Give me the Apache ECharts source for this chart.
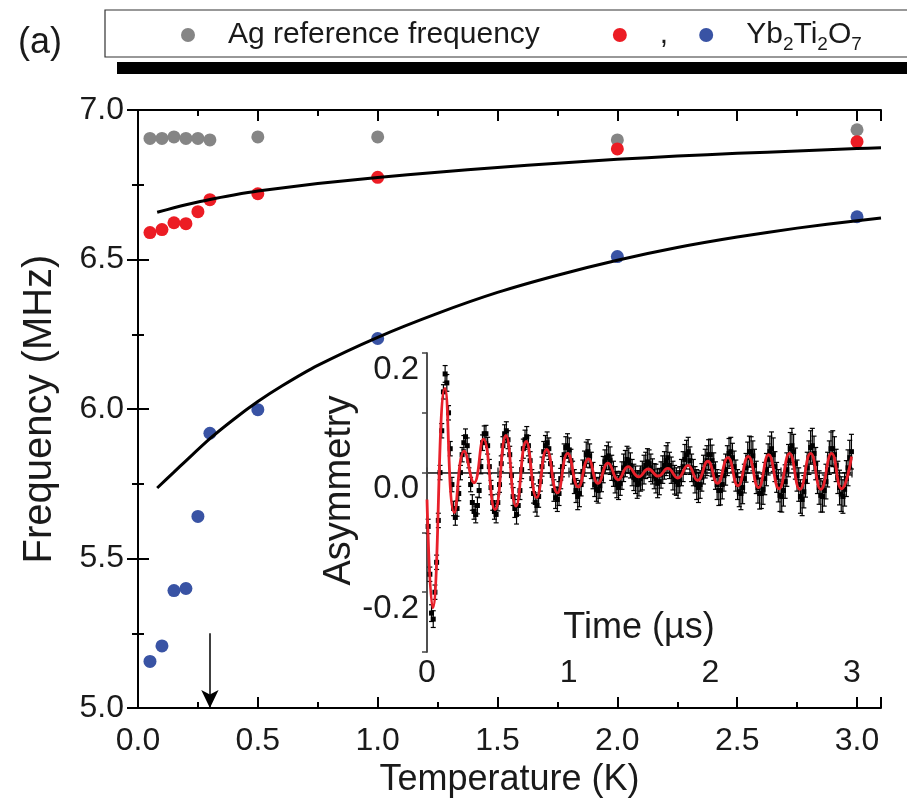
<!DOCTYPE html>
<html><head><meta charset="utf-8">
<script src="https://cdn.jsdelivr.net/npm/echarts@6/dist/echarts.min.js"></script>
<style>html,body{margin:0;padding:0;background:#fff}#c{width:907px;height:803px}</style>
</head><body><div id="c"></div>
<script>
const FONT = "'Liberation Sans',Arial,Helvetica,sans-serif";

// ---- main panel data ----
const temps = [0.05, 0.1, 0.15, 0.2, 0.25, 0.3, 0.5, 1.0, 2.0, 3.0];
const agFreq = [6.905, 6.905, 6.91, 6.905, 6.905, 6.9, 6.91, 6.91, 6.9, 6.934];
const redFreq = [6.59, 6.60, 6.623, 6.62, 6.66, 6.70, 6.72, 6.775, 6.87, 6.894];
const blueFreq = [5.156, 5.208, 5.393, 5.40, 5.641, 5.919, 5.998, 6.236, 6.51, 6.643];
const blueErr = [0.014, 0.014, 0.012, 0.014, 0.012, 0.01, 0.008, 0.006, 0.006, 0.006];

const fitUpperT = [0.08, 0.15, 0.2, 0.3, 0.4, 0.5, 0.75, 1.0, 1.25, 1.5, 1.75, 2.0, 2.25, 2.5, 2.75, 3.0, 3.1];
const fitUpperF = [6.658, 6.673, 6.683, 6.701, 6.716, 6.729, 6.754, 6.774, 6.792, 6.808, 6.822, 6.835, 6.846, 6.855, 6.863, 6.871, 6.874];
const fitLowerT = [0.08, 0.15, 0.2, 0.3, 0.4, 0.5, 0.6, 0.75, 1.0, 1.25, 1.5, 1.75, 2.0, 2.25, 2.5, 2.75, 3.0, 3.1];
const fitLowerF = [5.736, 5.789, 5.827, 5.901, 5.966, 6.025, 6.077, 6.146, 6.24, 6.32, 6.39, 6.4475, 6.4975, 6.54, 6.575, 6.605, 6.63, 6.639];

const arrowT = 0.3;
const arrowFrom = 5.25;
const arrowTo = 5.0;

// ---- inset data (two interleaved sets of time bins) ----
const insetTimeA = [0.008,0.032,0.056,0.080,0.104,0.128,0.152,0.176,0.200,0.224,0.248,0.272,0.296,0.320,0.344,0.368,0.392,0.416,0.440,0.464,0.488,0.512,0.536,0.560,0.584,0.608,0.632,0.656,0.680,0.704,0.728,0.752,0.776,0.800,0.824,0.848,0.872,0.896,0.920,0.944,0.968,0.992,1.016,1.040,1.064,1.088,1.112,1.136,1.160,1.184,1.208,1.232,1.256,1.280,1.304,1.328,1.352,1.376,1.400,1.424,1.448,1.472,1.496,1.520,1.544,1.568,1.592,1.616,1.640,1.664,1.688,1.712,1.736,1.760,1.784,1.808,1.832,1.856,1.880,1.904,1.928,1.952,1.976,2.000,2.024,2.048,2.072,2.096,2.120,2.144,2.168,2.192,2.216,2.240,2.264,2.288,2.312,2.336,2.360,2.384,2.408,2.432,2.456,2.480,2.504,2.528,2.552,2.576,2.600,2.624,2.648,2.672,2.696,2.720,2.744,2.768,2.792,2.816,2.840,2.864,2.888,2.912,2.936,2.960,2.984];
const insetAsymA = [-0.09,-0.235,-0.2,-0.08,0.07,0.165,0.1,-0.02,-0.075,-0.035,
 0.03,0.06,0.02,-0.05,-0.07,-0.03,0.05,0.065,0.01,-0.05,
 -0.07,-0.02,0.045,0.07,0.03,-0.04,-0.07,-0.03,0.04,0.06,
 0.02,-0.035,-0.055,-0.015,0.035,0.05,0.015,-0.03,-0.045,-0.01,
 0.03,0.045,0.02,-0.015,-0.04,-0.02,0.015,0.035,0.012,-0.02,
 -0.03,-0.01,0.018,0.028,0.008,-0.012,-0.025,-0.005,0.015,0.02,
 0.0,-0.012,-0.018,-0.005,0.012,0.015,0.002,-0.01,-0.015,0.005,
 0.02,0.012,-0.005,-0.015,-0.012,0.01,0.03,0.02,0.0,-0.02,
 -0.02,0.005,0.02,0.03,0.01,-0.02,-0.03,-0.005,0.02,0.035,
 0.01,-0.02,-0.035,-0.01,0.025,0.035,0.012,-0.025,-0.035,-0.01,
 0.022,0.04,0.01,-0.022,-0.04,-0.015,0.02,0.045,0.015,-0.02,
 -0.045,-0.015,0.025,0.045,0.015,-0.025,-0.04,-0.015,0.025,0.04,
 0.012,-0.025,-0.04,-0.01,0.025];
const insetTimeB = [0.020,0.044,0.068,0.092,0.116,0.140,0.164,0.188,0.212,0.236,0.260,0.284,0.308,0.332,0.356,0.380,0.404,0.428,0.452,0.476,0.500,0.524,0.548,0.572,0.596,0.620,0.644,0.668,0.692,0.716,0.740,0.764,0.788,0.812,0.836,0.860,0.884,0.908,0.932,0.956,0.980,1.004,1.028,1.052,1.076,1.100,1.124,1.148,1.172,1.196,1.220,1.244,1.268,1.292,1.316,1.340,1.364,1.388,1.412,1.436,1.460,1.484,1.508,1.532,1.556,1.580,1.604,1.628,1.652,1.676,1.700,1.724,1.748,1.772,1.796,1.820,1.844,1.868,1.892,1.916,1.940,1.964,1.988,2.012,2.036,2.060,2.084,2.108,2.132,2.156,2.180,2.204,2.228,2.252,2.276,2.300,2.324,2.348,2.372,2.396,2.420,2.444,2.468,2.492,2.516,2.540,2.564,2.588,2.612,2.636,2.660,2.684,2.708,2.732,2.756,2.780,2.804,2.828,2.852,2.876,2.900,2.924,2.948,2.972,2.996];
const insetAsymB = [-0.17,-0.245,-0.15,0.0,0.135,0.15,0.04,-0.06,-0.06,0.0,
 0.05,0.045,-0.02,-0.065,-0.055,0.01,0.065,0.045,-0.025,-0.065,
 -0.05,0.015,0.065,0.055,-0.005,-0.06,-0.055,0.005,0.055,0.045,
 -0.01,-0.05,-0.04,0.01,0.045,0.04,-0.005,-0.042,-0.035,0.01,
 0.042,0.038,0.0,-0.03,-0.035,0.002,0.03,0.028,-0.005,-0.028,
 -0.022,0.005,0.025,0.02,-0.002,-0.02,-0.018,0.008,0.022,0.012,
 -0.008,-0.02,-0.01,0.005,0.018,0.008,-0.006,-0.018,-0.004,0.012,
 0.025,0.004,-0.012,-0.02,0.0,0.022,0.035,0.008,-0.012,-0.025,
 -0.008,0.015,0.03,0.02,-0.005,-0.03,-0.02,0.005,0.032,0.025,
 -0.005,-0.032,-0.025,0.008,0.035,0.028,-0.008,-0.035,-0.028,0.005,
 0.035,0.03,-0.008,-0.038,-0.03,0.005,0.04,0.035,-0.005,-0.04,
 -0.032,0.008,0.042,0.032,-0.008,-0.038,-0.03,0.005,0.04,0.03,
 -0.008,-0.036,-0.028,0.008,0.035];
const insetErr = [0.012,0.014,0.012,0.012,0.012,0.014,0.012,0.012,0.013,0.012,
 0.012,0.013,0.012,0.013,0.014,0.012,0.013,0.014,0.012,0.013,
 0.014,0.013,0.015,0.015,0.014,0.015,0.016,0.015,0.016,0.017,
 0.015,0.016,0.018,0.016,0.017,0.018,0.016,0.018,0.02,0.017,
 0.018,0.02,0.019,0.02,0.022,0.019,0.021,0.02,0.022,0.02,
 0.021,0.022,0.02,0.023,0.021,0.022,0.02,0.023,0.022,0.021,
 0.022,0.023,0.021,0.024,0.022,0.023,0.021,0.024,0.022,0.023,
 0.025,0.022,0.024,0.023,0.022,0.025,0.024,0.023,0.022,0.025,
 0.023,0.024,0.025,0.026,0.023,0.025,0.024,0.026,0.025,0.024,
 0.026,0.025,0.027,0.024,0.026,0.025,0.027,0.026,0.025,0.027,
 0.026,0.028,0.025,0.027,0.026,0.028,0.027,0.029,0.026,0.028,
 0.027,0.026,0.028,0.029,0.027,0.028,0.026,0.029,0.028,0.03,
 0.027,0.029,0.028,0.03,0.029];

const fitTime = [0, 0.04, 0.127, 0.193, 0.263, 0.332, 0.398, 0.48, 0.557, 0.628, 0.70, 0.774, 0.845, 0.92, 0.993, 1.068, 1.139, 1.207, 1.278, 1.35, 1.42, 1.495, 1.562, 1.632, 1.70, 1.77, 1.842, 1.91, 1.982, 2.05, 2.124, 2.195, 2.268, 2.34, 2.411, 2.485, 2.559, 2.632, 2.708, 2.78, 2.856, 2.926, 2.997];
const fitAsym = [-0.045, -0.226, 0.141, -0.067, 0.036, -0.017, 0.056, -0.062, 0.062, -0.056, 0.052, -0.042, 0.039, -0.034, 0.032, -0.024, 0.023, -0.018, 0.016, -0.012, 0.01, -0.007, 0.006, -0.006, 0.007, -0.009, 0.012, -0.013, 0.019, -0.018, 0.025, -0.022, 0.027, -0.025, 0.03, -0.027, 0.032, -0.028, 0.032, -0.028, 0.032, -0.027, 0.027];

const zip = (a, b) => a.map((v, i) => [v, b[i]]);
const zip3 = (a, b, c) => a.map((v, i) => [v, b[i], c[i]]);

function errRender(hw, color, lw) {
  return function (params, api) {
    const x = api.value(0), y = api.value(1), e = api.value(2);
    const top = api.coord([x, y + e]);
    const bot = api.coord([x, y - e]);
    const st = { stroke: color, lineWidth: lw };
    return { type: 'group', children: [
      { type: 'line', shape: { x1: top[0], y1: top[1], x2: bot[0], y2: bot[1] }, style: st },
      { type: 'line', shape: { x1: top[0] - hw, y1: top[1], x2: top[0] + hw, y2: top[1] }, style: st },
      { type: 'line', shape: { x1: bot[0] - hw, y1: bot[1], x2: bot[0] + hw, y2: bot[1] }, style: st }
    ]};
  };
}

const mainLine = { lineStyle: { color: '#000', width: 2 } };
const mainTick = { inside: true, length: 11, lineStyle: { color: '#000', width: 2 } };
const mainMinor = { show: true, splitNumber: 2, length: 6, lineStyle: { color: '#000', width: 2 } };
const insetLine = { lineStyle: { color: '#444', width: 1.5 } };
const insetTick = { inside: true, length: 5, lineStyle: { color: '#444', width: 1.5 } };
const insetMinor = { show: true, splitNumber: 2, length: 5, lineStyle: { color: '#444', width: 1.5 } };
const txt = (size) => ({ fontSize: size, fontFamily: FONT, color: '#1a1a1a' });

const chart = echarts.init(document.getElementById('c'), null, { renderer: 'canvas' });
chart.setOption({
  animation: false,
  backgroundColor: '#fff',
  title: { text: '(a)', left: 13, top: 20, textStyle: Object.assign(txt(36), { fontWeight: 'normal' }) },
  graphic: [
    { type: 'rect', z: 1, shape: { x: 117, y: 62, width: 800, height: 12 }, style: { fill: '#000' } },
    { type: 'text', z: 20, x: 639, y: 628,
      style: { text: 'Time (µs)', font: '36px ' + FONT, fill: '#1a1a1a', align: 'center', verticalAlign: 'middle' } }
  ],
  legend: {
    data: ['Ag reference frequency', ',', 'Yb2Ti2O7'],
    left: 105, top: 10, width: 780,
    orient: 'horizontal', z: 5,
    icon: 'circle', itemWidth: 14, itemHeight: 14, itemGap: 31,
    padding: [6, 60, 3, 76],
    backgroundColor: '#fff', borderColor: '#333', borderWidth: 1.2,
    selectedMode: false,
    textStyle: Object.assign(txt(30), {
      lineHeight: 38, padding: [0, 0, 0, 28],
      rich: {
        a: { fontSize: 30, fontFamily: FONT, color: '#1a1a1a', padding: [0, 42, 0, 0] },
        n: { fontSize: 30, fontFamily: FONT, color: '#1a1a1a', lineHeight: 38 },
        s: { fontSize: 19, fontFamily: FONT, color: '#1a1a1a', lineHeight: 38, verticalAlign: 'bottom' }
      }
    }),
    formatter: (name) => name === 'Yb2Ti2O7' ? '{n|Yb}{s|2}{n|Ti}{s|2}{n|O}{s|7}' : (name === ',' ? name : '{a|' + name + '}')
  },
  grid: [
    { left: 138, right: 26, top: 110, bottom: 88, containLabel: false },
    { left: 427, top: 353, width: 425, height: 299, show: true, backgroundColor: '#fff', borderWidth: 0, z: 5 }
  ],
  xAxis: [
    { gridIndex: 0, type: 'value', min: 0, max: 3.1, interval: 0.5, position: 'bottom',
      axisLine: mainLine, axisTick: mainTick, minorTick: mainMinor, splitLine: { show: false },
      axisLabel: Object.assign(txt(32), { margin: 17, showMaxLabel: false, formatter: v => v.toFixed(1) }),
      name: 'Temperature (K)', nameLocation: 'middle', nameGap: 51, nameTextStyle: txt(36) },
    { gridIndex: 0, type: 'value', min: 0, max: 3.1, interval: 0.5, position: 'top',
      axisLine: mainLine, axisTick: mainTick, minorTick: mainMinor, splitLine: { show: false }, axisLabel: { show: false } },
    { gridIndex: 1, type: 'value', min: 0, max: 3, interval: 1, position: 'bottom', z: 6,
      axisLine: insetLine, axisTick: insetTick, minorTick: insetMinor, splitLine: { show: false },
      axisLabel: Object.assign(txt(32), { margin: 5 }) },
    { gridIndex: 1, type: 'value', min: 0, max: 3, interval: 1, position: 'top', z: 6,
      axisLine: insetLine, axisTick: insetTick, minorTick: insetMinor, splitLine: { show: false }, axisLabel: { show: false } }
  ],
  yAxis: [
    { gridIndex: 0, type: 'value', min: 5, max: 7, interval: 0.5, position: 'left',
      axisLine: mainLine, axisTick: mainTick, minorTick: mainMinor, splitLine: { show: false },
      axisLabel: Object.assign(txt(32), { margin: 14, formatter: v => v.toFixed(1) }),
      name: 'Frequency (MHz)', nameLocation: 'middle', nameGap: 78, nameTextStyle: txt(40) },
    { gridIndex: 0, type: 'value', min: 5, max: 7, interval: 0.5, position: 'right',
      axisLine: mainLine, axisTick: mainTick, minorTick: mainMinor, splitLine: { show: false }, axisLabel: { show: false } },
    { gridIndex: 1, type: 'value', min: -0.3, max: 0.2, interval: 0.1, position: 'left', z: 6,
      axisLine: insetLine, axisTick: Object.assign({}, insetTick, { inside: false }), splitLine: { show: false },
      axisLabel: Object.assign(txt(33), { margin: 8, verticalAlign: 'top',
        formatter: v => { const r = Math.round(v * 10); if (r === 0) return '0.0'; return (r % 2 === 0) ? (r / 10).toFixed(1) : ''; } }),
      name: 'Asymmetry', nameLocation: 'middle', nameGap: 32, nameTextStyle: Object.assign(txt(38), { padding: [0, 0, 0, 24] }) },
    { gridIndex: 1, type: 'value', min: -0.3, max: 0.2, interval: 0.1, position: 'right', z: 6,
      axisLine: insetLine, axisTick: insetTick, splitLine: { show: false }, axisLabel: { show: false } }
  ],
  series: [
    { name: 'Ag reference frequency', type: 'scatter', xAxisIndex: 0, yAxisIndex: 0, symbolSize: 13,
      itemStyle: { color: '#858585', opacity: 1 }, data: zip(temps, agFreq), z: 2 },
    { name: ',', type: 'scatter', xAxisIndex: 0, yAxisIndex: 0, symbolSize: 13,
      itemStyle: { color: '#ec1c24', opacity: 1 }, data: zip(temps, redFreq), z: 2 },
    { name: 'blueErr', type: 'custom', xAxisIndex: 0, yAxisIndex: 0, renderItem: errRender(4, '#3953a4', 1.5),
      encode: { x: 0, y: 1 }, data: zip3(temps, blueFreq, blueErr), z: 1 },
    { name: 'Yb2Ti2O7', type: 'scatter', xAxisIndex: 0, yAxisIndex: 0, symbolSize: 13,
      itemStyle: { color: '#3953a4', opacity: 1 }, data: zip(temps, blueFreq), z: 2 },
    { name: 'fitUpper', type: 'line', xAxisIndex: 0, yAxisIndex: 0, smooth: 0.25, symbol: 'none',
      lineStyle: { color: '#000', width: 3 }, data: zip(fitUpperT, fitUpperF), z: 3,
      markLine: { silent: true, symbol: ['none', 'arrow'], symbolSize: [13, 18], label: { show: false },
        lineStyle: { color: '#000', width: 1.5, type: 'solid' },
        data: [[{ coord: [arrowT, arrowFrom] }, { coord: [arrowT, arrowTo] }]] } },
    { name: 'fitLower', type: 'line', xAxisIndex: 0, yAxisIndex: 0, smooth: 0.25, symbol: 'none',
      lineStyle: { color: '#000', width: 3 }, data: zip(fitLowerT, fitLowerF), z: 3 },
    { name: 'insetErrA', type: 'custom', xAxisIndex: 2, yAxisIndex: 2, renderItem: errRender(2.5, '#000', 1.2),
      encode: { x: 0, y: 1 }, data: zip3(insetTimeA, insetAsymA, insetErr), z: 7 },
    { name: 'insetErrB', type: 'custom', xAxisIndex: 2, yAxisIndex: 2, renderItem: errRender(2.5, '#000', 1.2),
      encode: { x: 0, y: 1 }, data: zip3(insetTimeB, insetAsymB, insetErr), z: 7 },
    { name: 'insetDataA', type: 'scatter', xAxisIndex: 2, yAxisIndex: 2, symbol: 'rect', symbolSize: 5,
      itemStyle: { color: '#000', opacity: 1 }, data: zip(insetTimeA, insetAsymA), z: 7 },
    { name: 'insetDataB', type: 'scatter', xAxisIndex: 2, yAxisIndex: 2, symbol: 'rect', symbolSize: 5,
      itemStyle: { color: '#000', opacity: 1 }, data: zip(insetTimeB, insetAsymB), z: 7 },
    { name: 'insetFit', type: 'line', xAxisIndex: 2, yAxisIndex: 2, smooth: true, symbol: 'none',
      lineStyle: { color: '#e8202a', width: 2.8 }, data: zip(fitTime, fitAsym), z: 8,
      markLine: { silent: true, symbol: ['none', 'none'], label: { show: false },
        lineStyle: { color: '#000', width: 1, type: 'solid' }, data: [{ yAxis: 0 }] } }
  ]
});
</script></body></html>
